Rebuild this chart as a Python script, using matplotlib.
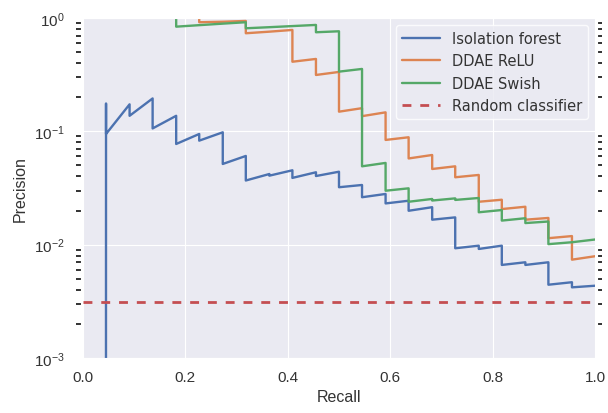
import matplotlib
matplotlib.use('Agg')
import matplotlib.pyplot as plt
import matplotlib.ticker as mticker
import numpy as np
import seaborn as sns

# Precision-recall curves
iforest_recall = [0, 0.045, 0.045, 0.091, 0.091, 0.136, 0.136, 0.182, 0.182, 0.227, 0.227,
                  0.273, 0.273, 0.318, 0.318, 0.364, 0.364, 0.409, 0.409, 0.455, 0.455,
                  0.5, 0.5, 0.545, 0.545, 0.591, 0.591, 0.636, 0.636, 0.682, 0.682,
                  0.727, 0.727, 0.773, 0.773, 0.818, 0.818, 0.864, 0.864, 0.909, 0.909,
                  0.955, 0.955, 1.0]
iforest_precision = [0, 0.176, 0.0947, 0.173, 0.137, 0.195, 0.106, 0.137, 0.0773, 0.0947, 0.0827,
                     0.098, 0.0515, 0.0606, 0.0368, 0.042, 0.0406, 0.0453, 0.0388, 0.0435, 0.0403,
                     0.044, 0.0321, 0.0336, 0.0262, 0.028, 0.0231, 0.0244, 0.0199, 0.0214, 0.0166,
                     0.0174, 0.00929, 0.00979, 0.00916, 0.00979, 0.00662, 0.00699, 0.00662,
                     0.00699, 0.00443, 0.00466, 0.0042, 0.00434]

relu_recall = [0.227, 0.227, 0.273, 0.318, 0.318, 0.364, 0.409, 0.409, 0.455, 0.455,
               0.5, 0.5, 0.545, 0.545, 0.591, 0.591, 0.636, 0.636, 0.682, 0.682,
               0.727, 0.727, 0.773, 0.773, 0.818, 0.818, 0.864, 0.864, 0.909, 0.909,
               0.955, 0.955, 1.0]
relu_precision = [1.0, 0.917, 0.926, 0.941, 0.733, 0.757, 0.784, 0.411, 0.435, 0.314,
                  0.334, 0.149, 0.160, 0.136, 0.147, 0.0839, 0.0886, 0.0576, 0.0618, 0.0465,
                  0.0491, 0.0393, 0.0412, 0.0239, 0.0249, 0.0206, 0.0216, 0.0166, 0.0172, 0.0114,
                  0.0119, 0.00737, 0.0079]

swish_recall = [0.182, 0.182, 0.227, 0.273, 0.318, 0.318, 0.364, 0.409, 0.455, 0.455,
                0.5, 0.5, 0.545, 0.545, 0.591, 0.591, 0.636, 0.636, 0.682, 0.682,
                0.727, 0.727, 0.773, 0.773, 0.818, 0.818, 0.864, 0.864, 0.909, 0.909,
                0.955, 1.0]
swish_precision = [1.0, 0.838, 0.864, 0.891, 0.917, 0.811, 0.829, 0.848, 0.868, 0.748,
                   0.763, 0.336, 0.355, 0.0491, 0.0526, 0.0299, 0.0314, 0.0239, 0.0253, 0.0245,
                   0.0256, 0.0248, 0.0258, 0.0193, 0.0202, 0.0163, 0.0171, 0.0155, 0.0160, 0.0101,
                   0.0105, 0.0111]

random_precision = 0.0031

sns.set_style('darkgrid')
plt.rcParams['font.family'] = ['Liberation Sans', 'DejaVu Sans']
plt.rcParams['mathtext.default'] = 'regular'

blue, orange, green, red = '#4C72B0', '#DD8452', '#55A868', '#C44E52'

fig = plt.figure(figsize=(6.08, 4.14), dpi=100)
ax = fig.add_axes([0.1365, 0.1329, 0.8421, 0.8213])

ax.plot(iforest_recall, iforest_precision, color=blue, lw=1.7, label='Isolation forest')
ax.plot(relu_recall, relu_precision, color=orange, lw=1.7, label='DDAE ReLU')
ax.plot(swish_recall, swish_precision, color=green, lw=1.7, label='DDAE Swish')
ax.axhline(random_precision, color=red, lw=2.0, ls=(0, (3.2, 3.2)), label='Random classifier')

ax.set_yscale('log')
ax.set_xlim(0, 1)
ax.set_ylim(1e-3, 1)
ax.set_xticks([0, 0.2, 0.4, 0.6, 0.8, 1.0])
ax.yaxis.set_major_locator(mticker.LogLocator(base=10, numticks=10))
ax.yaxis.set_minor_locator(mticker.LogLocator(base=10, subs=np.arange(2, 10), numticks=10))
ax.yaxis.set_minor_formatter(mticker.NullFormatter())

# small detached minor ticks on both sides of the y axis
for side in ['left', 'right']:
    ax.spines[side].set_position(('outward', 1.5))
ax.tick_params(axis='y', which='minor', left=True, right=True, length=3.5,
               width=1.3, color='#222222', direction='out')
ax.tick_params(axis='y', which='major', length=0, pad=12, labelsize=11, labelcolor='#333333')
ax.tick_params(axis='x', which='major', length=0, pad=9, labelsize=11, labelcolor='#333333')
ax.grid(which='minor', visible=False)

ax.set_xlabel('Recall', fontsize=11.5, color='#333333', labelpad=3)
ax.set_ylabel('Precision', fontsize=11.5, color='#333333', labelpad=4)

leg = ax.legend(loc='upper right', frameon=True, handlelength=2.6,
                prop={'family': 'DejaVu Sans', 'size': 10.5})
leg.get_frame().set_facecolor('#EAEAF2')
leg.get_frame().set_edgecolor('white')
for t in leg.get_texts():
    t.set_color('#333333')

plt.savefig('out.png', dpi=100)
